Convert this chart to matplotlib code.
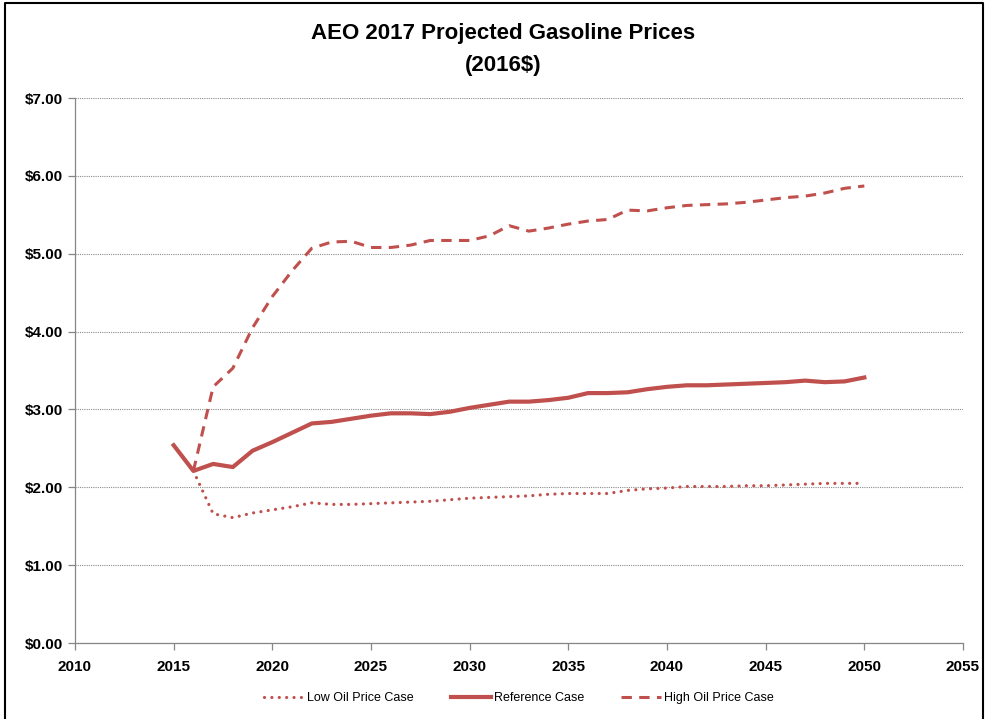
import matplotlib
matplotlib.use("Agg")
import matplotlib.pyplot as plt
from matplotlib.lines import Line2D
from matplotlib.ticker import FuncFormatter, MultipleLocator

plt.rcParams['font.family'] = ['Liberation Sans', 'DejaVu Sans']

years_ref = list(range(2015, 2051))
reference = [2.54, 2.21, 2.30, 2.26, 2.47, 2.58, 2.70, 2.82, 2.84, 2.88, 2.92, 2.95, 2.95, 2.94,
             2.97, 3.02, 3.06, 3.10, 3.10, 3.12, 3.15, 3.21, 3.21, 3.22, 3.26, 3.29, 3.31, 3.31,
             3.32, 3.33, 3.34, 3.35, 3.37, 3.35, 3.36, 3.41]
years_alt = list(range(2016, 2051))
low = [2.21, 1.66, 1.61, 1.67, 1.71, 1.75, 1.80, 1.78, 1.78, 1.79, 1.80, 1.81, 1.82, 1.84, 1.86,
       1.87, 1.88, 1.89, 1.91, 1.92, 1.92, 1.92, 1.96, 1.98, 1.99, 2.01, 2.01, 2.01, 2.02, 2.02,
       2.03, 2.04, 2.05, 2.05, 2.05]
high = [2.21, 3.29, 3.53, 4.05, 4.45, 4.78, 5.07, 5.15, 5.16, 5.08, 5.08, 5.11, 5.17, 5.17, 5.17,
        5.23, 5.36, 5.29, 5.33, 5.38, 5.42, 5.44, 5.56, 5.55, 5.59, 5.62, 5.63, 5.64, 5.66, 5.69,
        5.72, 5.74, 5.78, 5.84, 5.87]

title_line1 = "AEO 2017 Projected Gasoline Prices"
title_line2 = "(2016$)"
color = "#C0504D"

fig = plt.figure(figsize=(9.86, 7.19), dpi=100)
ax = fig.add_axes([75/986, 1-643/719, (963-75)/986, (643-98)/719])

ax.plot(years_alt, low, color=color, lw=2.3, linestyle=(0, (0.01, 2.3)), dash_capstyle='round',
        label="Low Oil Price Case")
ax.plot(years_ref, reference, color=color, lw=3.0, label="Reference Case")
ax.plot(years_alt, high, color=color, lw=2.2, linestyle=(0, (3.4, 2.4)), label="High Oil Price Case")

ax.set_xlim(2010, 2055)
ax.set_ylim(0, 7)
ax.xaxis.set_major_locator(MultipleLocator(5))
ax.yaxis.set_major_locator(MultipleLocator(1))
ax.yaxis.set_major_formatter(FuncFormatter(lambda v, p: f"${v:.2f}"))
ax.grid(axis='y', color='#8c8c8c', linestyle=(0, (1, 1)), lw=0.8)
ax.set_axisbelow(True)
for s in ['top', 'right']:
    ax.spines[s].set_visible(False)
for s in ['left', 'bottom']:
    ax.spines[s].set_color('#868686')
    ax.spines[s].set_linewidth(0.9)
ax.tick_params(axis='both', direction='out', length=5, color='#868686', width=0.9,
               labelsize=11)
for lab in ax.get_xticklabels() + ax.get_yticklabels():
    lab.set_fontweight('bold')
ax.tick_params(axis='x', pad=7)

fig.text(0.51, 1-33/719, title_line1, ha='center', va='center', fontsize=16, fontweight='bold')
fig.text(0.51, 1-65/719, title_line2, ha='center', va='center', fontsize=16, fontweight='bold')

leg = ax.legend(loc='center', bbox_to_anchor=(0.5, (643-698)/545), ncol=3, frameon=False,
                fontsize=9, handlelength=3.2, columnspacing=3.0, handletextpad=0.2)

# figure border (left, top, right)
fig.add_artist(Line2D([5/986, 5/986, 983/986, 983/986], [0, 1-3/719, 1-3/719, 0],
                      transform=fig.transFigure, color='black', lw=1.5))

fig.savefig("out.png", dpi=100)
